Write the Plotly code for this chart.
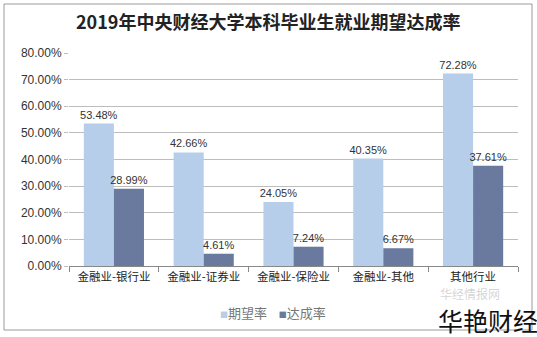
import plotly.graph_objects as go

categories = ["金融业-银行业", "金融业-证券业", "金融业-保险业", "金融业-其他", "其他行业"]
expect_rate = [53.48, 42.66, 24.05, 40.35, 72.28]
achieve_rate = [28.99, 4.61, 7.24, 6.67, 37.61]
tick_vals = [0, 10, 20, 30, 40, 50, 60, 70, 80]
tick_text = [f"{v:.2f}%" for v in tick_vals]
series_names = ["期望率", "达成率"]
series_colors = ["#B6CEEA", "#6A7A9E"]

L, R, T, B = 69, 19, 53, 71
W, H = 537, 337
pw, ph = W - L - R, H - T - B

def px_x(p):
    return (p - L) / pw

def px_y(p):
    return (H - B - p) / ph

fig = go.Figure()
for name, vals, col in zip(series_names, [expect_rate, achieve_rate], series_colors):
    fig.add_trace(go.Bar(
        name=name, x=categories, y=vals, showlegend=False,
        marker=dict(color=col, line=dict(width=0)),
        text=[f"{v:.2f}%" for v in vals], textposition="outside",
        constraintext="none",
        textfont=dict(size=11, color="#333333", family="Liberation Sans, Arial"),
        cliponaxis=False,
    ))

legend_html = "&nbsp;&nbsp;&nbsp;&nbsp;".join(
    f"<span style='color:{c};font-size:8px'>■</span>{n}" for n, c in zip(series_names, series_colors)
)

fig.update_layout(
    width=W, height=H,
    margin=dict(l=L, r=R, t=T, b=B),
    paper_bgcolor="white", plot_bgcolor="white",
    barmode="group", bargap=0.33, bargroupgap=0.0,
    showlegend=False,
    font=dict(family="Noto Sans CJK SC", color="#333333"),
    xaxis=dict(
        showline=True, linecolor="#888888", linewidth=1,
        ticks="outside", tickson="boundaries", ticklen=5, tickcolor="#888888",
        tickfont=dict(size=11.5, color="#222222", family="Noto Sans CJK SC"),
        showgrid=False,
    ),
    yaxis=dict(
        range=[0, 80], tickvals=tick_vals, ticktext=tick_text,
        showgrid=True, gridcolor="#BDBDBD", gridwidth=1,
        showline=False, zeroline=False,
        ticks="outside", ticklen=4, tickcolor="#BDBDBD",
        tickfont=dict(size=12, color="#333333", family="Liberation Sans, Arial"),
    ),
    annotations=[
        dict(text="<b>2019年中央财经大学本科毕业生就业期望达成率</b>", xref="paper", yref="paper",
             x=px_x(268), y=px_y(21), xanchor="center", yanchor="middle", showarrow=False,
             font=dict(size=18, color="#222222", family="Noto Sans CJK SC")),
        dict(text=legend_html, xref="paper", yref="paper",
             x=px_x(273), y=px_y(312), xanchor="center", yanchor="middle", showarrow=False,
             font=dict(size=13, color="#777777", family="Noto Sans CJK SC")),
        dict(text="华经情报网", xref="paper", yref="paper",
             x=px_x(470), y=px_y(293), xanchor="center", yanchor="middle", showarrow=False,
             font=dict(size=12, color="rgba(160,160,160,0.45)", family="Noto Sans CJK SC")),
        dict(text="华艳财经", xref="paper", yref="paper",
             x=px_x(488), y=px_y(320), xanchor="center", yanchor="middle", showarrow=False,
             font=dict(size=25, color="#111111", family="Noto Sans CJK SC")),
    ],
    shapes=[
        dict(type="rect", xref="paper", yref="paper",
             x0=px_x(4), x1=px_x(532), y0=px_y(330), y1=px_y(4),
             line=dict(color="#9A9A9A", width=1), layer="below"),
    ],
)

fig.write_html("out.html")
